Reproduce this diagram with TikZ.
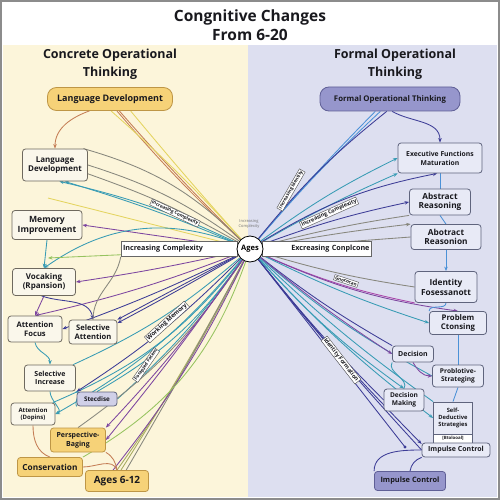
\documentclass[tikz,border=0pt]{standalone}
\usepackage{fontspec}
\setmainfont{Open Sans}
\usetikzlibrary{arrows.meta, positioning, calc}
\definecolor{leftbg}{RGB}{252,245,218}
\definecolor{rightbg}{RGB}{221,223,240}
\definecolor{pillyel}{RGB}{246,210,120}
\definecolor{pillyeldk}{RGB}{190,150,70}
\definecolor{pillpur}{RGB}{150,150,204}
\definecolor{pillpurdk}{RGB}{95,95,150}
\definecolor{boxcream}{RGB}{250,247,235}
\definecolor{boxline}{RGB}{110,105,95}
\definecolor{rboxfill}{RGB}{232,234,246}
\definecolor{rboxline}{RGB}{95,100,125}
\definecolor{textdark}{RGB}{25,25,30}
\definecolor{cyel}{RGB}{228,212,95}
\definecolor{cbrn}{RGB}{196,125,85}
\definecolor{cgry}{RGB}{135,135,125}
\definecolor{cteal}{RGB}{55,155,180}
\definecolor{cblu}{RGB}{75,145,215}
\definecolor{cpur}{RGB}{125,70,160}
\definecolor{cdkb}{RGB}{60,60,150}
\definecolor{cgrn}{RGB}{150,195,95}
\definecolor{colv}{RGB}{165,170,95}
\definecolor{cmag}{RGB}{170,70,170}
\pgfdeclarelayer{bg}
\pgfdeclarelayer{lines}
\pgfsetlayers{bg,lines,main}

\begin{document}
\begin{tikzpicture}[x=1pt, y=-1pt,
  box/.style={draw=boxline, fill=boxcream, rounded corners=3pt, align=center, inner sep=1pt, line width=0.8pt, text=textdark, font=\bfseries\fontsize{8}{9.5}\selectfont},
  rbox/.style={box, draw=rboxline, fill=rboxfill},
  ybox/.style={box, draw=pillyeldk, fill=pillyel},
  ypill/.style={box, draw=pillyeldk, fill=pillyel, rounded corners=9pt, font=\bfseries\fontsize{9}{10}\selectfont},
  ppill/.style={box, draw=pillpurdk, fill=pillpur, rounded corners=9pt, font=\bfseries\fontsize{7.8}{9}\selectfont},
  head/.style={align=center, text=textdark, font=\bfseries\fontsize{12.5}{18}\selectfont},
  strip/.style={draw=black!60, fill=white, inner sep=2pt, line width=0.5pt, text=textdark, font=\bfseries\fontsize{7.2}{8}\selectfont},
  tag/.style={draw=black!70, fill=white, inner sep=1pt, line width=0.4pt, text=textdark, font=\bfseries\fontsize{4.6}{5}\selectfont},
  cline/.style={line width=0.85pt},
  arr/.style={-{Stealth[length=4.5pt, width=3.5pt]}}
]
  \useasboundingbox (0,0) rectangle (500,500);
  \begin{pgfonlayer}{bg}
    \fill[white] (0,0) rectangle (500,500);
    \fill[leftbg] (3,45) rectangle (248,497);
    \fill[rightbg] (248,45) rectangle (497,497);
    \draw[black!45, line width=1.2pt] (1,1) rectangle (499,499);
  \end{pgfonlayer}

  % titles
  \node[head, font=\bfseries\fontsize{15.5}{19.5}\selectfont] (title) at (250,25) {Congnitive Changes\\From 6-20};
  \node[head] (lhead) at (110,64) {Concrete Operational\\Thinking};
  \node[head] (rhead) at (395,64) {Formal Operational\\Thinking};
  \node[ypill, minimum width=125, minimum height=23] (cpill) at (110,99) {Language Development};
  \node[ppill, minimum width=140, minimum height=24] (fpill) at (390,99) {Formal Operational Thinking};

  % centre
  \node[strip, text width=112, align=left, minimum height=15] (ilabel) at (179,249) {Increasing Complexity};
  \node[strip, text width=105, align=right, minimum height=15] (elabel) at (317,249) {Excreasing Conplcone};
  \node[circle, draw=black, fill=white, line width=0.8pt, minimum size=26, inner sep=0pt, font=\bfseries\fontsize{7.5}{8}\selectfont] (ages) at (250,249) {Ages};
  \node[align=center, text=black!55, font=\fontsize{4}{4.5}\selectfont] (small) at (249,224) {Increasing\\Complexity};

  % left boxes
  \node[box, minimum width=65, minimum height=32] (lang) at (55,165) {Language\\Development};
  \node[box, minimum width=70, minimum height=29, font=\bfseries\fontsize{8.6}{10}\selectfont] (memo) at (47,225) {Memory\\Improvement};
  \node[box, minimum width=63, minimum height=27] (voca) at (44,282) {Vocaking\\(Rpansion)};
  \node[box, minimum width=54, minimum height=26, font=\bfseries\fontsize{7.6}{9}\selectfont] (afoc) at (35,329) {Attention\\Focus};
  \node[box, minimum width=48, minimum height=24, font=\bfseries\fontsize{7.6}{9}\selectfont] (satt) at (93,332) {Selective\\Attention};
  \node[box, minimum width=51, minimum height=26, font=\bfseries\fontsize{7}{8.5}\selectfont] (sinc) at (50,378) {Selective\\Increase};
  \node[rbox, fill=pillpur!45, minimum width=40, minimum height=14, font=\bfseries\fontsize{6.3}{7}\selectfont] (stec) at (97,399) {Stecdise};
  \node[box, minimum width=44, minimum height=22, font=\bfseries\fontsize{6}{7}\selectfont] (adoc) at (33,414) {Attention\\(Dopins)};
  \node[ybox, minimum width=55, minimum height=24, font=\bfseries\fontsize{7}{8.5}\selectfont] (persp) at (78,440) {Perspective-\\Baging};
  \node[ybox, minimum width=65, minimum height=19, font=\bfseries\fontsize{8.3}{9}\selectfont] (cons) at (50,467) {Conservation};
  \node[ybox, minimum width=63, minimum height=21, font=\bfseries\fontsize{10}{11}\selectfont] (agesA) at (117,481) {Ages 6-12};

  % right boxes
  \node[rbox, minimum width=84, minimum height=30, font=\bfseries\fontsize{6.8}{9}\selectfont] (exec) at (440,158) {Executive Functions\\Maturation};
  \node[rbox, minimum width=61, minimum height=26, font=\bfseries\fontsize{8.3}{9.5}\selectfont] (abst) at (440,202) {Abstract\\Reasoning};
  \node[rbox, minimum width=70, minimum height=25, font=\bfseries\fontsize{8.3}{9.5}\selectfont] (abot) at (446,237) {Abotract\\Reasonion};
  \node[rbox, minimum width=62, minimum height=31, font=\bfseries\fontsize{8.3}{10}\selectfont] (iden) at (446,287) {Identity\\Fosessanott};
  \node[rbox, minimum width=57, minimum height=23, font=\bfseries\fontsize{7.8}{9}\selectfont] (prob) at (458,323) {Problem\\Ctonsing};
  \node[rbox, minimum width=41, minimum height=16, font=\bfseries\fontsize{7}{8}\selectfont] (deci) at (413,354) {Decision};
  \node[rbox, minimum width=51, minimum height=22, font=\bfseries\fontsize{6.6}{8}\selectfont] (plst) at (458,376) {Problotive-\\Strateging};
  \node[rbox, minimum width=40, minimum height=22, font=\bfseries\fontsize{6.6}{8}\selectfont] (dmak) at (404,400) {Decision\\Making};
  \node[rbox, rounded corners=0pt, minimum width=39, minimum height=32, font=\bfseries\fontsize{5.8}{7}\selectfont] (selfd) at (453,418) {Self-\\Deductive\\Strategies};
  \node[rbox, fill=white, rounded corners=0pt, minimum width=39, minimum height=9, font=\bfseries\fontsize{4.4}{5}\selectfont] (btol) at (453,438.5) {[Btolooal]};
  \node[rbox, minimum width=68, minimum height=14, font=\bfseries\fontsize{7}{8}\selectfont] (impw) at (456,450) {Impulse Control};
  \node[rbox, draw=pillpurdk, fill=pillpur, minimum width=71, minimum height=19, font=\bfseries\fontsize{7.4}{8}\selectfont] (impp) at (410,481) {Impulse Control};

  % line labels
  \node[tag, rotate=-25] (tagA) at (175,213) {Increasing Complexity};
  \node[tag, rotate=60] (tagB) at (291,190) {Increasing Identity};
  \node[tag, rotate=24, font=\bfseries\fontsize{5.4}{6}\selectfont] (tagC) at (329,213) {Increasing Complexity};
  \node[tag, rotate=-18] (tagD) at (346,281) {Gnococan};
  \node[tag, rotate=-52, font=\bfseries\fontsize{5.6}{6}\selectfont] (tagE) at (341,360) {Identity Formation};
  \node[tag, rotate=42, font=\bfseries\fontsize{6}{7}\selectfont] (tagF) at (167,322) {Working Memory};
  \node[tag, rotate=55] (tagG) at (146,365) {Forapjed Fatem};

  \coordinate (yend) at (48,198);
  \coordinate (gend) at (48,258);
  \coordinate (dot) at (405,447);

  \begin{pgfonlayer}{lines}
    % left fan
    \foreach \dst/\col/\bnd in {cpill.-60/cbrn/3, cpill.-52/cbrn/2, cpill.-30/cyel/1, cpill.-85/cyel/-3, yend/cyel/0,
        lang.30/cgry/-14, lang.east/cgry/-9, lang.-15/cgry/-5, stec.north/cteal/12, stec.east/cteal/6,
        agesA.north/colv/4, agesA.70/colv/2, agesA.50/cgry/1, agesA.110/cpur/6, persp.north/cgry/10,
        sinc.30/cteal/8, adoc.30/cteal/14, cons.north east/cgrn/20}
      \draw[cline, \col] (ages) to[bend left=\bnd] (\dst);
    \foreach \dst/\col/\bnd in {lang.-60/cteal/-3, lang.-75/cteal/-6, memo.east/cpur/0, voca.north/cteal/-28, gend/cgrn/0,
        voca.east/cpur/2, afoc.north/cpur/4, afoc.east/cdkb/3, satt.20/cdkb/1, satt.north east/cdkb/0,
        persp.east/cpur/2, persp.north east/cpur/4, adoc.east/cteal/10, stec.north west/cdkb/6}
      \draw[cline, arr, \col] (ages) to[bend left=\bnd] (\dst);

    % right fan
    \foreach \dst/\col/\bnd in {fpill.-140/cblu/2, fpill.-128/cblu/3, fpill.-105/cdkb/6, abst.south west/cgry/3,
        abot.west/cgry/0, iden.west/cgry/-4, iden.south west/cmag/-6, deci.north west/cdkb/-4, dmak.west/cdkb/-3,
        impw.west/cdkb/-2, dot/cdkb/0, selfd.north west/cteal/-4, plst.west/cteal/-6}
      \draw[cline, \col] (ages) to[bend left=\bnd] (\dst);
    \foreach \dst/\col/\bnd in {exec.west/cteal/5, exec.south west/cteal/3, exec.-100/cdkb/10, abst.west/cdkb/4,
        abot.north west/cgry/2, prob.north/cpur/-8, prob.west/cteal/-4, deci.west/cpur/-3, dmak.north/cteal/-6,
        selfd.west/cteal/-5, impw.170/cdkb/-3}
      \draw[cline, arr, \col] (ages) to[bend left=\bnd] (\dst);

    % local links, left
    \draw[cline, arr, cbrn] (cpill.-150) to[out=-160, in=90] (lang.north);
    \draw[cline, arr, cteal] (memo.south) -- (voca.north);
    \draw[cline, arr, cpur] (voca.south) -- (afoc.north);
    \draw[cline, arr, cdkb] (voca.-100) to[out=-20, in=100] (satt.north);
    \draw[cline, cgry] (ilabel.south west) to[out=-100, in=90] (satt.north);
    \draw[cline, arr, cteal] (afoc.south) to[out=-80, in=90] (sinc.north);
    \draw[cline, arr, cteal] (sinc.south) to[out=-90, in=20] (adoc.east);
    \draw[cline, cteal] (sinc.south east) to[out=-10, in=120] (stec.south west);
    \draw[cline, cbrn] (adoc.south) to[out=-90, in=160] (cons.north);
    \draw[cline, cbrn] (cons.east) to[out=0, in=110] (agesA.north);
    \draw[cline, cbrn] (persp.south east) to[out=-30, in=100] (agesA.north);

    % local links, right
    \draw[cline, arr, cdkb] (fpill.-80) to[out=-30, in=90] (exec.north);
    \draw[cline, cblu] (exec.south) -- (abst.north);
    \draw[cline, cblu] (abst.south) -- (abot.north);
    \draw[cline, arr, cblu] (abot.south) -- (iden.north);
    \draw[cline, cblu] (iden.south) to[out=-90, in=90] (prob.north west);
    \draw[cline, cblu] (prob.south) -- (plst.north);
    \draw[cline, cblu] (plst.south) -- (selfd.north);
    \draw[cline, arr, cpur] (deci.south) to[out=-60, in=180] (plst.west);
    \draw[cline, cteal] (deci.south west) to[out=-120, in=60] (dmak.north);
    \draw[cline, cdkb] (impw.west) to[out=180, in=90] (impp.north west);
    \draw[cline, cdkb] (impw.south west) to[out=200, in=80] (impp.north);
    \fill[cdkb] (dot) circle (1.6);
  \end{pgfonlayer}
\end{tikzpicture}
\end{document}
